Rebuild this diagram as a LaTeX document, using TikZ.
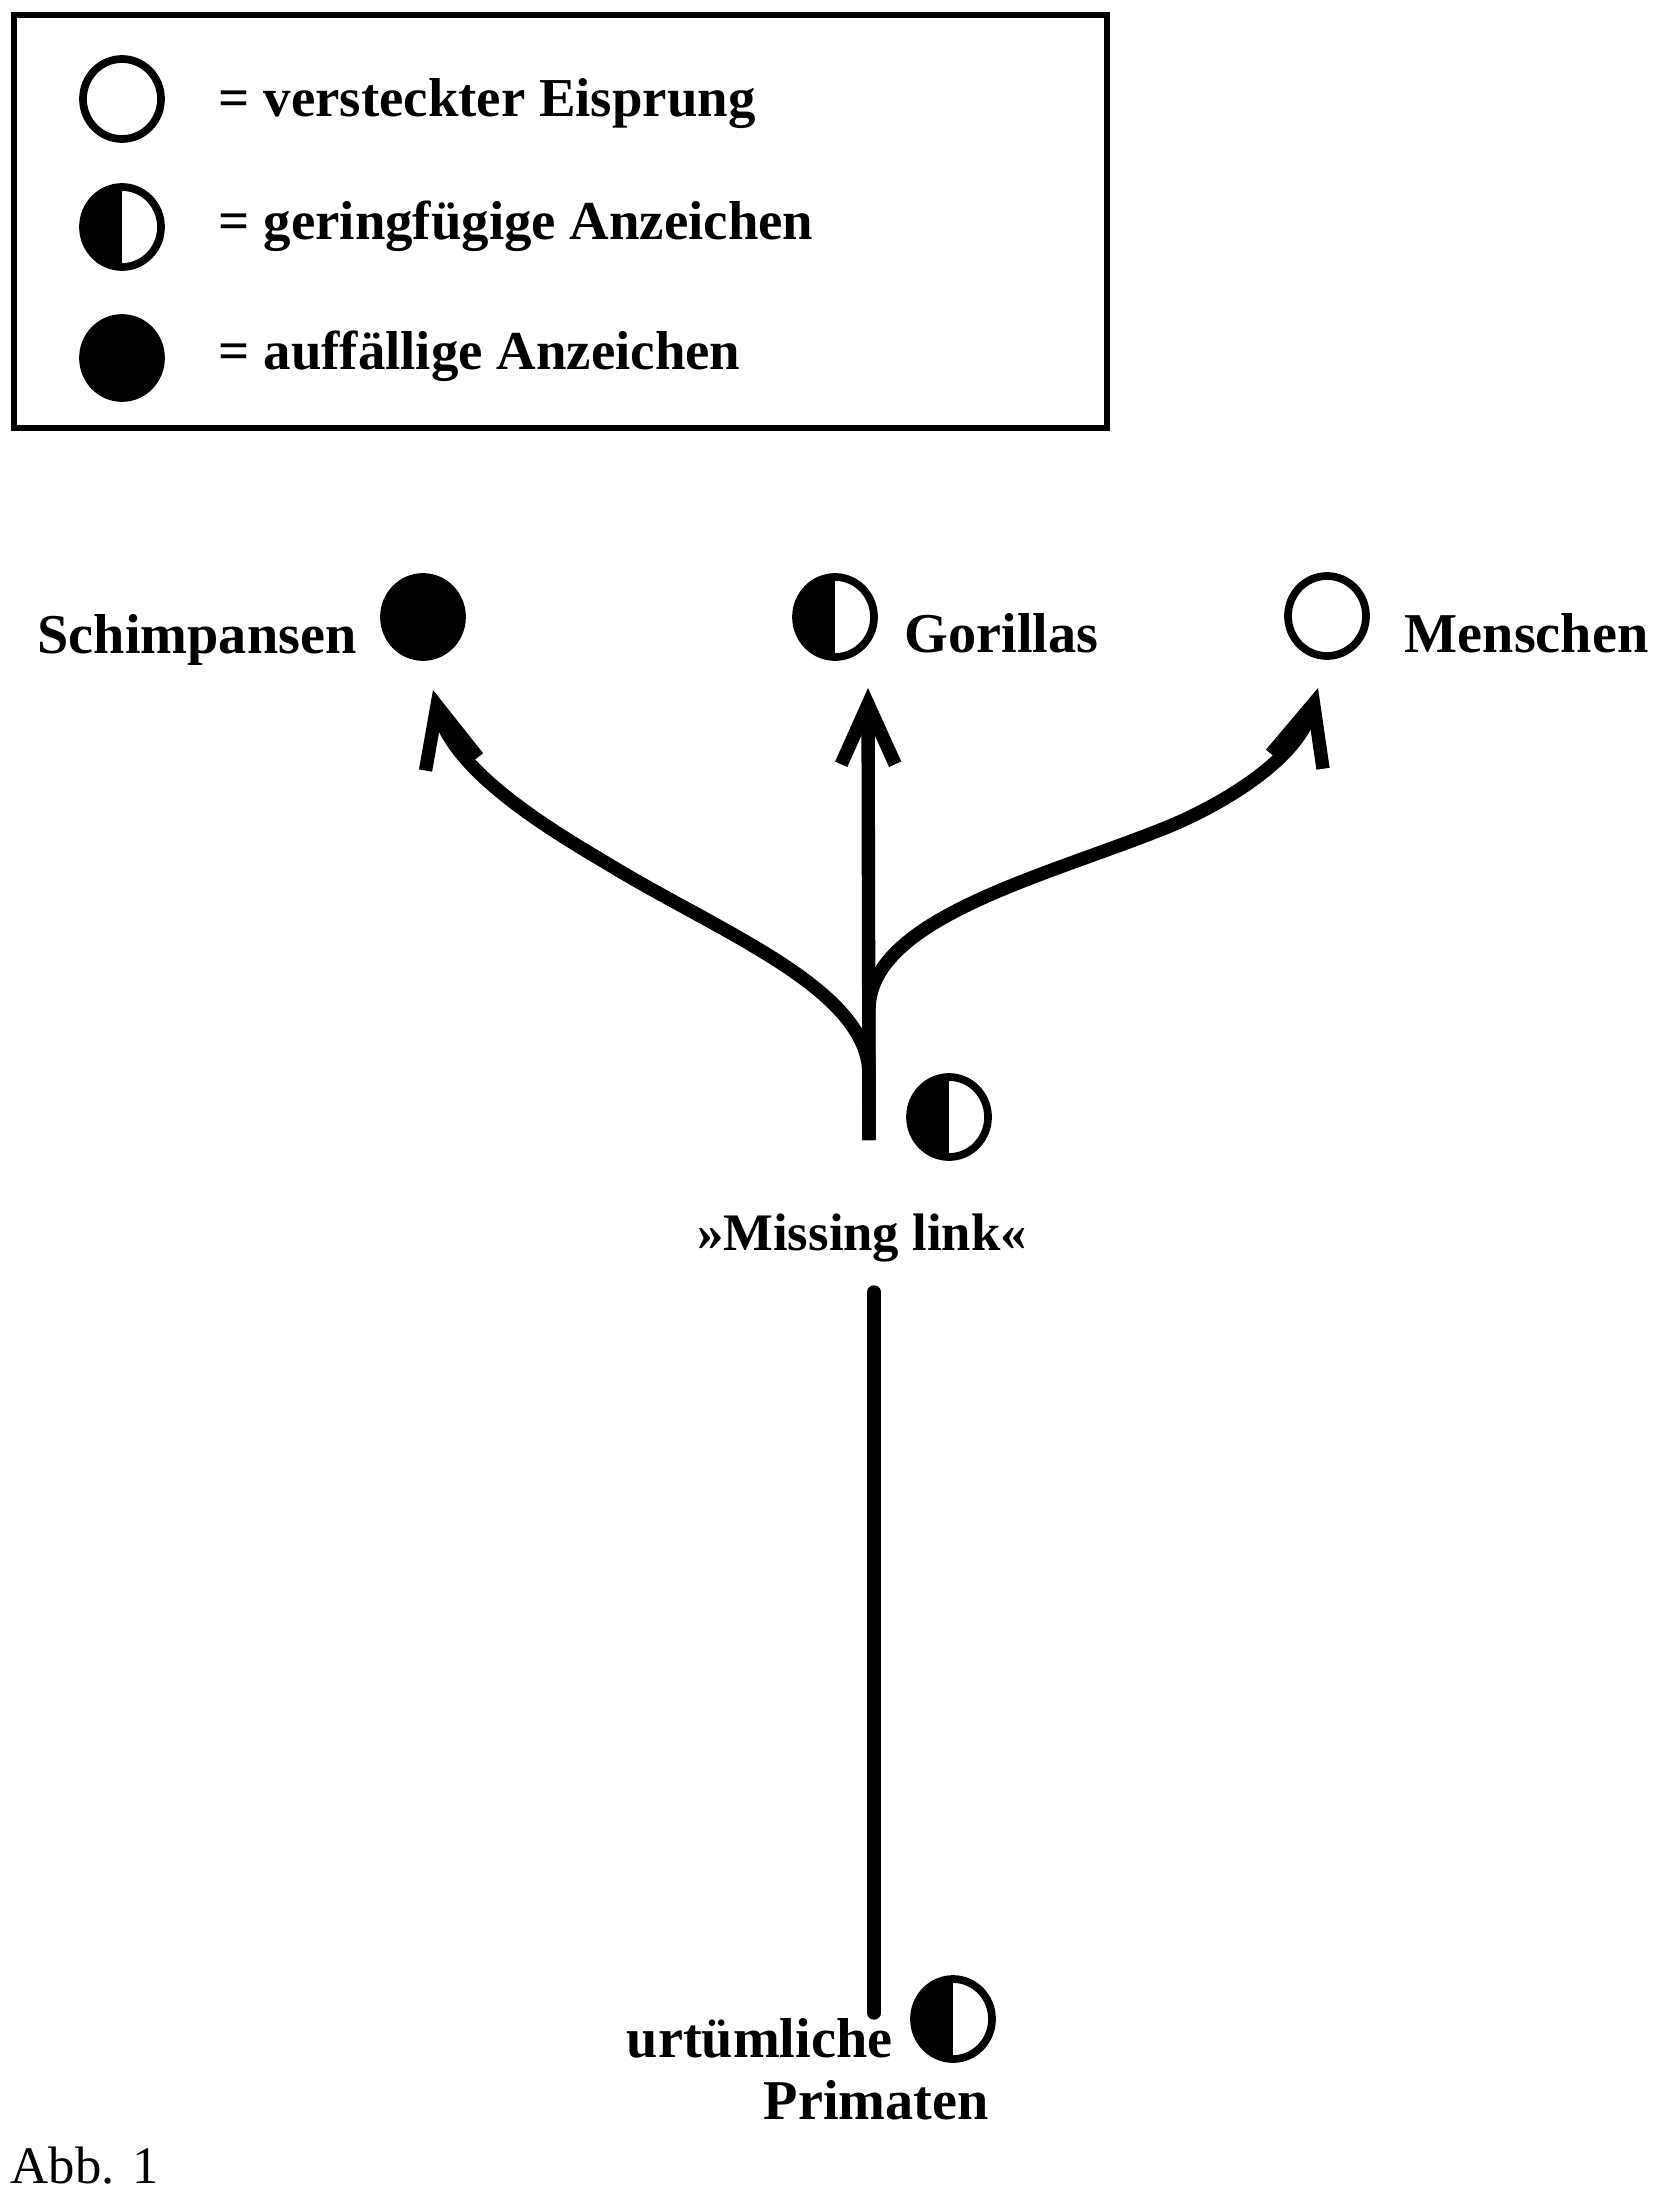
\documentclass[tikz,border=0pt]{standalone}
\usepackage{fontspec}
\setmainfont{Liberation Serif}
\usetikzlibrary{arrows.meta,shapes.geometric}

\begin{document}
\begin{tikzpicture}[x=0.1mm, y=-0.1mm,
    ovsign/.style={ellipse, draw, line width=2.2pt, inner sep=0pt, minimum width=7.8mm, minimum height=8.0mm},
    ovopen/.style={ovsign},
    ovhalf/.style={ovsign, path picture={\fill (path picture bounding box.south west) rectangle (path picture bounding box.north);}},
    ovfull/.style={ovsign, fill=black},
    lbl/.style={font=\fontsize{16}{19}\selectfont\bfseries, inner sep=0pt},
    keylbl/.style={lbl, font=\fontsize{15.6}{19}\selectfont\bfseries},
    stem/.style={line width=3.8pt, line cap=round},
    branch/.style={line width=3.8pt, -{Straight Barb[length=6mm, width=5.4mm]}}]
  \useasboundingbox (0,0) rectangle (1661,2201);

  % legend
  \draw[line width=1.6pt] (14,15) rectangle (1107,428);
  \node[ovopen] (keyopen) at (122,99) {};
  \node[keylbl, anchor=base west] (keyopentext) at (218,117) {= versteckter Eisprung};
  \node[ovhalf] (keyhalf) at (122,227) {};
  \node[keylbl, anchor=base west] (keyhalftext) at (218,240) {= geringfügige Anzeichen};
  \node[ovfull] (keyfull) at (122,358) {};
  \node[keylbl, anchor=base west] (keyfulltext) at (218,370) {= auffällige Anzeichen};

  % the three species
  \node[ovfull] (schimp) at (423,617) {};
  \node[ovhalf] (gorilla) at (835,617) {};
  \node[ovopen] (mensch) at (1327,616) {};
  \node[lbl, anchor=base west] (schimptext) at (37,653) {Schimpansen};
  \node[lbl, anchor=base west] (gorillatext) at (904,652) {Gorillas};
  \node[lbl, anchor=base west] (menschtext) at (1404,652) {Menschen};

  % missing link and ancestors
  \node[ovhalf] (missing) at (949,1117) {};
  \node[lbl, font=\fontsize{15}{18}\selectfont\bfseries, anchor=base] (missingtext) at (862,1250) {»Missing link«};
  \node[ovhalf] (primat) at (953,2019) {};
  \node[lbl, anchor=base east] (primattext) at (893,2057) {urtümliche};
  \node[lbl, anchor=base west] (primattexttwo) at (763,2119) {Primaten};

  % stem and branch points
  \coordinate (root) at (874,2013);
  \coordinate (linkfoot) at (874,1292);
  \coordinate (fork) at (869,1140);
  \coordinate (tipleft) at (433,690);
  \coordinate (tipmid) at (868,688);
  \coordinate (tipright) at (1318,688);

  % lines
  \draw[stem] (root) -- (linkfoot);
  \draw[branch] (fork) -- (tipmid);
  \draw[branch] (fork) -- ++(0,-65) .. controls (869,990) and (724,934) .. (613,867)
    .. controls (570,841) and (455,777) .. (tipleft);
  \draw[branch] (fork) -- ++(0,-130) .. controls (869,920) and (1039,878) .. (1160,830)
    .. controls (1207,812) and (1296,765) .. (tipright);

  % caption
  \node[font=\fontsize{15}{18}\selectfont, inner sep=0pt, anchor=base west] (caption) at (10,2183) {Abb. 1};
\end{tikzpicture}
\end{document}
